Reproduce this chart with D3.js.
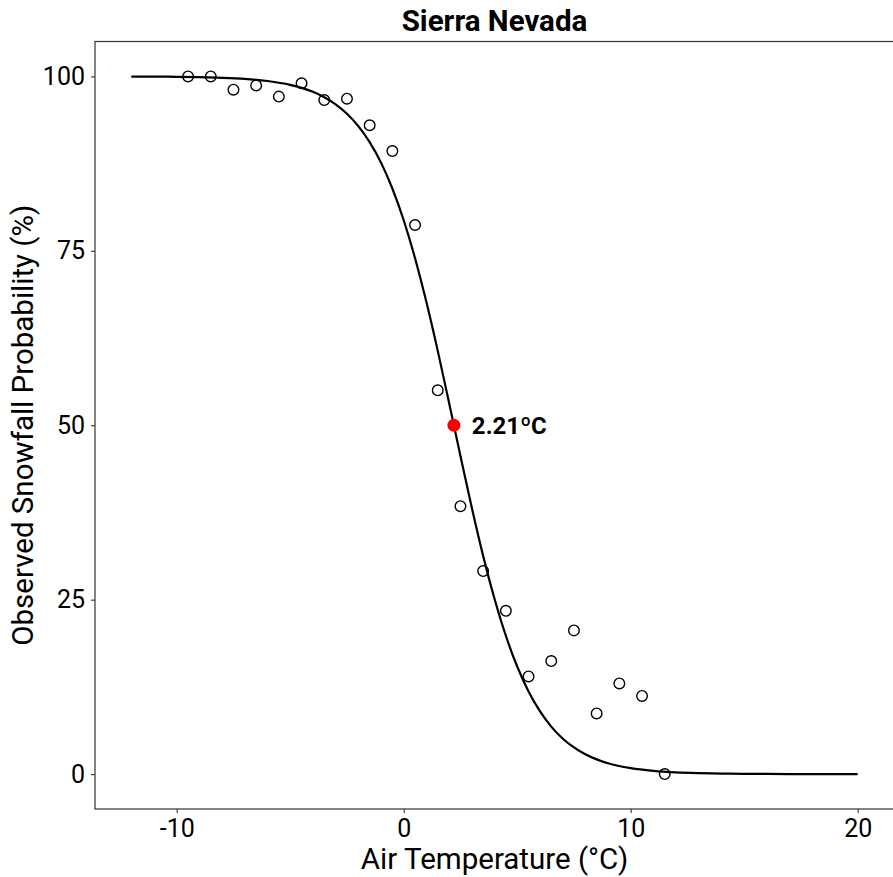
<!DOCTYPE html>
<html>
<head>
<meta charset="utf-8">
<script src="https://cdn.jsdelivr.net/npm/d3@7"></script>
<style>
  body { margin: 0; background: #fff; }
  svg text { font-family: Roboto, "Noto Sans", sans-serif; }
</style>
</head>
<body>
<div id="chart"></div>
<script>
// observed points (binned air temp, % snow)
var obsTemp = [-9.5, -8.5, -7.5, -6.5, -5.5, -4.5, -3.5, -2.5, -1.5, -0.5, 0.5,
               1.5, 2.5, 3.5, 4.5, 5.5, 6.5, 7.5, 8.5, 9.5, 10.5, 11.5];
var obsProb = [100, 100, 98.1, 98.7, 97.1, 99.0, 96.6, 96.8, 93.0, 89.3, 78.7,
               55.0, 38.4, 29.1, 23.4, 14.0, 16.2, 20.6, 8.7, 13.0, 11.2, 0];

// fitted curve
var fitTemp = [-12, -11, -10, -9, -8, -7, -6, -5, -4.5, -4, -3.5, -3, -2.5, -2, -1.5, -1, -0.5,
               0, 0.5, 1, 1.5, 2, 2.5, 3, 3.5, 4, 4.5, 5, 5.5, 6, 6.5, 7, 7.5, 8, 8.5, 9,
               10, 11, 12, 13, 14, 15, 16, 17, 18, 19, 20];
var fitProb = [99.98, 99.97, 99.94, 99.89, 99.80, 99.64, 99.34, 98.79, 98.36, 97.79, 97.02, 96.0, 94.65, 92.88, 90.58, 87.64, 83.93,
               79.38, 73.94, 67.65, 60.66, 53.2, 45.59, 38.18, 31.28, 25.13, 19.83, 15.42, 11.85, 9.02, 6.81, 5.11, 3.82, 2.84, 2.11, 1.56,
               0.86, 0.47, 0.25, 0.14, 0.08, 0.04, 0.02, 0.01, 0.01, 0.0, 0.0];

var midTemp = 2.21;
var midProb = 50;
var midLabel = "2.21ºC";

var xTicks = [-10, 0, 10, 20];
var yTicks = [0, 25, 50, 75, 100];

var width = 893, height = 877;
var margin = {top: 41.5, right: -1, bottom: 68, left: 95};
var plotW = width - margin.left - margin.right,
    plotH = height - margin.top - margin.bottom;

var svg = d3.select("#chart").append("svg")
  .attr("width", width)
  .attr("height", height);

var g = svg.append("g")
  .attr("transform", "translate(" + margin.left + "," + margin.top + ")");

// ggplot style 5% expansion
var x = d3.scaleLinear().domain([-13.6, 21.6]).range([0, plotW]);
var y = d3.scaleLinear().domain([-5, 105]).range([plotH, 0]);

var plain = function(d) { return String(d); };  // hyphen, not unicode minus

// axes
var xAxis = g.append("g")
  .attr("transform", "translate(0," + plotH + ")")
  .call(d3.axisBottom(x).tickValues(xTicks).tickFormat(plain).tickSize(4).tickPadding(6));
var yAxis = g.append("g")
  .call(d3.axisLeft(y).tickValues(yTicks).tickFormat(plain).tickSize(4).tickPadding(6));

[xAxis, yAxis].forEach(function(a) {
  a.select(".domain").remove();
  a.selectAll(".tick line").attr("stroke", "#333").attr("stroke-width", 1.1);
  a.selectAll(".tick text")
    .attr("fill", "#000")
    .style("font-size", "25px");
});

// panel border
g.append("rect")
  .attr("x", 0).attr("y", 0)
  .attr("width", plotW).attr("height", plotH)
  .attr("fill", "none")
  .attr("stroke", "#333")
  .attr("stroke-width", 1.2);

// fitted curve
var line = d3.line()
  .x(function(d) { return x(d[0]); })
  .y(function(d) { return y(d[1]); })
  .curve(d3.curveMonotoneX);

g.append("path")
  .datum(d3.zip(fitTemp, fitProb))
  .attr("d", line)
  .attr("fill", "none")
  .attr("stroke", "#000")
  .attr("stroke-width", 2.2);

// observed points
g.selectAll(".obs")
  .data(d3.zip(obsTemp, obsProb))
  .enter().append("circle")
  .attr("class", "obs")
  .attr("cx", function(d) { return x(d[0]); })
  .attr("cy", function(d) { return y(d[1]); })
  .attr("r", 5.3)
  .attr("fill", "none")
  .attr("stroke", "#000")
  .attr("stroke-width", 1.4);

// 50% threshold
g.append("circle")
  .attr("cx", x(midTemp))
  .attr("cy", y(midProb))
  .attr("r", 6.5)
  .attr("fill", "#ff0000");

g.append("text")
  .attr("x", x(midTemp) + 18)
  .attr("y", y(midProb) + 9)
  .style("font-size", "24px")
  .style("font-weight", "bold")
  .text(midLabel);

// titles
svg.append("text")
  .attr("x", margin.left + plotW / 2)
  .attr("y", 31)
  .attr("text-anchor", "middle")
  .style("font-size", "29.5px")
  .style("font-weight", "bold")
  .text("Sierra Nevada");

svg.append("text")
  .attr("x", margin.left + plotW / 2)
  .attr("y", 869)
  .attr("text-anchor", "middle")
  .style("font-size", "29.5px")
  .text("Air Temperature (°C)");

svg.append("text")
  .attr("transform", "translate(33," + (margin.top + plotH / 2) + ") rotate(-90)")
  .attr("text-anchor", "middle")
  .style("font-size", "29.5px")
  .text("Observed Snowfall Probability (%)");
</script>
</body>
</html>
